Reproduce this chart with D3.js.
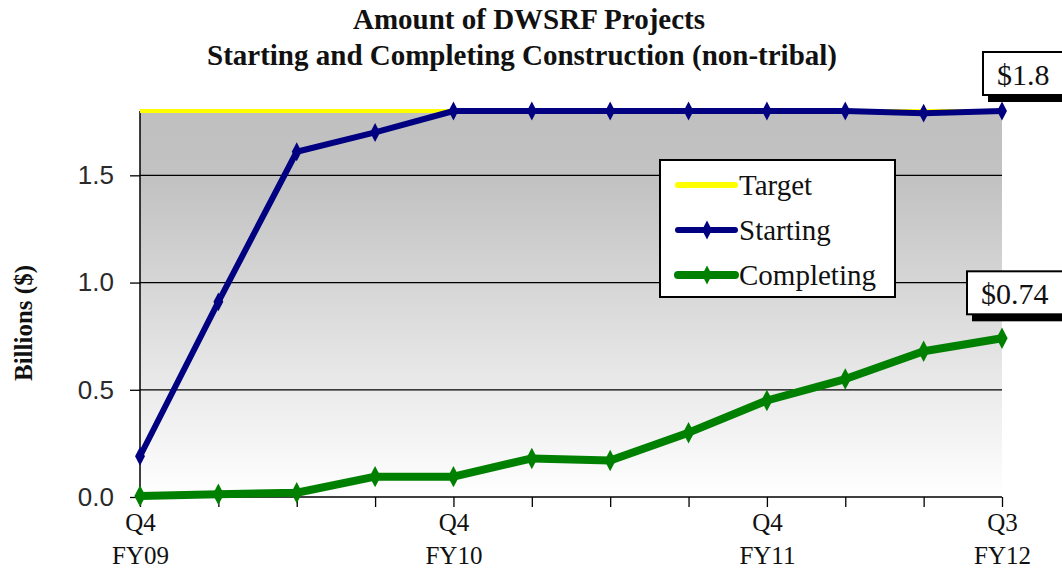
<!DOCTYPE html>
<html>
<head>
<meta charset="utf-8">
<script src="https://cdn.jsdelivr.net/npm/d3@7"></script>
<style>
  html, body { margin: 0; padding: 0; background: #fff; }
  svg { display: block; }
</style>
</head>
<body>
<svg id="chart"></svg>
<script>
// quarters along the x axis (Q4 FY09 .. Q3 FY12)
const quarters = ["Q4 FY09", "Q1 FY10", "Q2 FY10", "Q3 FY10", "Q4 FY10", "Q1 FY11",
                  "Q2 FY11", "Q3 FY11", "Q4 FY11", "Q1 FY12", "Q2 FY12", "Q3 FY12"];
// only these quarters carry a label under the axis
const labelledQuarters = ["Q4 FY09", "Q4 FY10", "Q4 FY11", "Q3 FY12"];

const targetValues = [1.8, 1.8, 1.8, 1.8, 1.8, 1.8, 1.8, 1.8, 1.8, 1.8, 1.8, 1.8];
const startingValues = [0.19, 0.91, 1.61, 1.70, 1.80, 1.80, 1.80, 1.80, 1.80, 1.80, 1.79, 1.80];
const completingValues = [0.005, 0.013, 0.02, 0.095, 0.095, 0.18, 0.17, 0.30, 0.45, 0.55, 0.68, 0.74];

const yTicks = [0, 0.5, 1.0, 1.5];
const endLabels = ["$1.8", "$0.74"];

const width = 1062, height = 574;
const margin = { top: 111, right: 60, bottom: 77, left: 140 };

const svg = d3.select("#chart")
    .attr("width", width)
    .attr("height", height)
    .style("font-family", "'Liberation Serif', 'Times New Roman', serif");

const x = d3.scalePoint()
    .domain(quarters)
    .range([margin.left, width - margin.right]);

const y = d3.scaleLinear()
    .domain([0, 1.8])
    .range([height - margin.bottom, margin.top]);

// plot background, grey fading to white
const grad = svg.append("defs").append("linearGradient")
    .attr("id", "bg").attr("x1", 0).attr("y1", 0).attr("x2", 0).attr("y2", 1);
grad.append("stop").attr("offset", "0%").attr("stop-color", "#c0c0c0");
grad.append("stop").attr("offset", "18%").attr("stop-color", "#c2c2c2");
grad.append("stop").attr("offset", "100%").attr("stop-color", "#ffffff");

svg.append("rect")
    .attr("x", x.range()[0])
    .attr("y", y(1.8))
    .attr("width", x.range()[1] - x.range()[0])
    .attr("height", y(0) - y(1.8))
    .attr("fill", "url(#bg)");

// gridlines
svg.append("g")
    .selectAll("line")
    .data(yTicks.filter(d => d > 0))
    .join("line")
    .attr("x1", x.range()[0])
    .attr("x2", x.range()[1])
    .attr("y1", d => y(d))
    .attr("y2", d => y(d))
    .attr("stroke", "#000")
    .attr("stroke-width", 1.3);

// y axis
const yAxis = svg.append("g")
    .attr("transform", `translate(${margin.left},0)`)
    .call(d3.axisLeft(y).tickValues(yTicks).tickFormat(d3.format(".1f")).tickSize(10).tickPadding(16));
yAxis.select(".domain").attr("stroke", "#000").attr("stroke-width", 1.5).attr("d", `M0,${y(0)}V${y(1.8)}`);
yAxis.selectAll(".tick line").attr("stroke", "#000").attr("stroke-width", 1.3);
yAxis.selectAll(".tick text")
    .attr("font-family", "'Liberation Sans', Arial, sans-serif")
    .attr("font-size", 26)
    .attr("fill", "#2a2a2a");

// x axis
const xAxis = svg.append("g")
    .attr("transform", `translate(0,${y(0)})`)
    .call(d3.axisBottom(x).tickSize(10).tickFormat(""));
xAxis.select(".domain").attr("stroke", "#000").attr("stroke-width", 1.5).attr("d", `M${x.range()[0]},0H${x.range()[1]}`);
xAxis.selectAll(".tick line").attr("stroke", "#000").attr("stroke-width", 1.3);
xAxis.selectAll(".tick").each(function (d) {
    if (!labelledQuarters.includes(d)) return;
    const parts = d.split(" ");
    const t = d3.select(this).append("text")
        .attr("text-anchor", "middle")
        .attr("fill", "#111")
        .attr("font-family", "'Liberation Serif', 'Times New Roman', serif")
        .attr("font-size", 25);
    t.append("tspan").attr("x", 0).attr("y", 34).text(parts[0]);
    t.append("tspan").attr("x", 0).attr("y", 67).text(parts[1]);
});

// series
const line = d3.line().x((d, i) => x(quarters[i])).y(d => y(d));
const diamond = d3.symbol().type(d3.symbolDiamond);

svg.append("path")
    .datum(targetValues)
    .attr("d", line)
    .attr("fill", "none")
    .attr("stroke", "#ffff00")
    .attr("stroke-width", 4);

function drawSeries(values, color, lw, markerSize) {
    svg.append("path")
        .datum(values)
        .attr("d", line)
        .attr("fill", "none")
        .attr("stroke", color)
        .attr("stroke-width", lw)
        .attr("stroke-linejoin", "round");
    svg.append("g")
        .selectAll("path")
        .data(values)
        .join("path")
        .attr("transform", (d, i) => `translate(${x(quarters[i])},${y(d)}) scale(1,1.1)`)
        .attr("d", diamond.size(markerSize))
        .attr("fill", color);
}
drawSeries(startingValues, "#000080", 6, 85);
drawSeries(completingValues, "#008000", 8, 110);

// legend
const legend = svg.append("g").attr("transform", "translate(660,160)");
legend.append("rect")
    .attr("width", 235).attr("height", 137)
    .attr("fill", "#fff").attr("stroke", "#000").attr("stroke-width", 2);
const legendItems = [
    { name: "Target", color: "#ffff00", lw: 6, marker: false },
    { name: "Starting", color: "#000080", lw: 6, marker: true },
    { name: "Completing", color: "#008000", lw: 8, marker: true }
];
legendItems.forEach((it, i) => {
    const gy = 25 + i * 45;
    legend.append("line")
        .attr("x1", 18).attr("x2", 75).attr("y1", gy).attr("y2", gy)
        .attr("stroke", it.color).attr("stroke-width", it.lw).attr("stroke-linecap", "round");
    if (it.marker) {
        legend.append("path")
            .attr("transform", `translate(47,${gy}) scale(1,1.1)`)
            .attr("d", diamond.size(85))
            .attr("fill", it.color);
    }
    legend.append("text")
        .attr("x", 79).attr("y", gy + 10)
        .attr("font-size", 29)
        .attr("fill", "#111")
        .text(it.name);
});

// boxed end labels with a drop shadow
function endLabel(text, value, dx, dy) {
    const px = x(quarters[quarters.length - 1]) + dx;
    const py = y(value) + dy;
    const g = svg.append("g");
    const shadow = g.append("rect").attr("fill", "#000");
    const box = g.append("rect").attr("fill", "#fff").attr("stroke", "#000").attr("stroke-width", 2);
    const t = g.append("text")
        .attr("x", px + 14).attr("y", py + 33)
        .attr("font-size", 30)
        .attr("fill", "#111")
        .text(text);
    const w = t.node().getBBox().width + 30;
    box.attr("x", px).attr("y", py).attr("width", w).attr("height", 43);
    shadow.attr("x", px + 5).attr("y", py + 7).attr("width", w).attr("height", 43);
}
endLabel(endLabels[0], startingValues[startingValues.length - 1], -19, -59);
endLabel(endLabels[1], completingValues[completingValues.length - 1], -35, -67);

// titles
svg.append("text")
    .attr("x", 529).attr("y", 29)
    .attr("text-anchor", "middle")
    .attr("font-weight", "bold").attr("font-size", 29)
    .attr("fill", "#111")
    .text("Amount of DWSRF Projects");
svg.append("text")
    .attr("x", 522).attr("y", 65)
    .attr("text-anchor", "middle")
    .attr("font-weight", "bold").attr("font-size", 29)
    .attr("fill", "#111")
    .text("Starting and Completing Construction (non-tribal)");

svg.append("text")
    .attr("transform", `translate(32,${(y(0) + y(1.8)) / 2 + 19}) rotate(-90)`)
    .attr("text-anchor", "middle")
    .attr("font-weight", "bold").attr("font-size", 25)
    .attr("fill", "#111")
    .text("Billions ($)");
</script>
</body>
</html>
